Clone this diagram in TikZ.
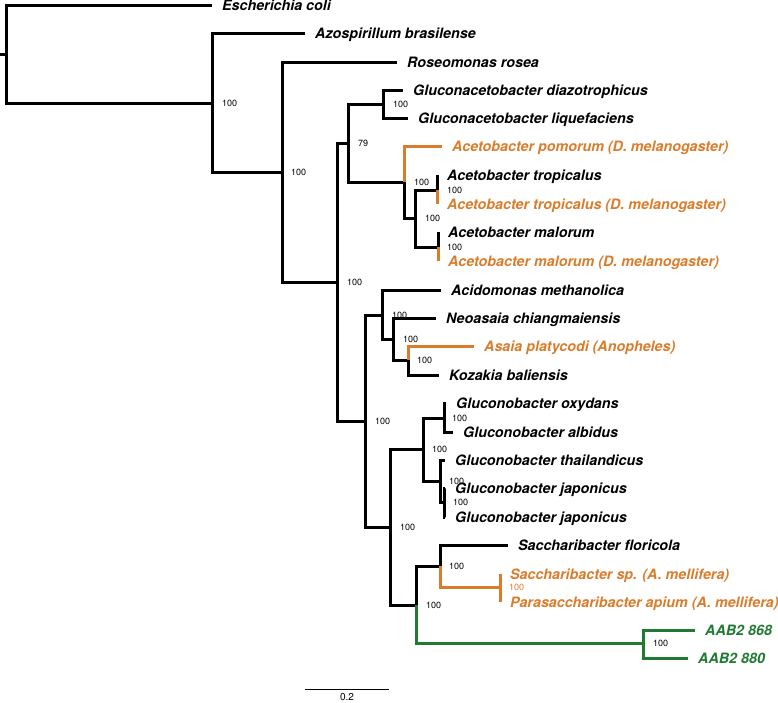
\documentclass[tikz,border=0pt]{standalone}
\usepackage{fontspec}
\setsansfont{TeX Gyre Heros}
\usetikzlibrary{positioning}

\definecolor{hostorange}{RGB}{217,125,45}
\definecolor{aabgreen}{RGB}{33,122,50}

\tikzset{
  branch/.style={line width=3pt},
  taxon/.style={anchor=west, inner xsep=10pt, inner ysep=0pt, text height=10.3pt, text depth=0pt,
    font=\sffamily\bfseries\itshape\fontsize{14.3}{16}\selectfont},
  boot/.style={inner sep=0pt, font=\sffamily\fontsize{9}{10}\selectfont},
}

\begin{document}
\begin{tikzpicture}[x=1pt,y=-1pt]
\useasboundingbox (0,0) rectangle (778,702);

% Taxa
\node[taxon] (ecoli) at (212,5) {Escherichia coli};
\node[taxon] (azo) at (305,33) {Azospirillum brasilense};
\node[taxon] (roseo) at (397,62) {Roseomonas rosea};
\node[taxon] (gdiaz) at (403,90) {Gluconacetobacter diazotrophicus};
\node[taxon] (gliq) at (408,118) {Gluconacetobacter liquefaciens};
\node[taxon, text=hostorange] (apom) at (442,146) {Acetobacter pomorum (D. melanogaster)};
\node[taxon] (atrop) at (437,175) {Acetobacter tropicalus};
\node[taxon, text=hostorange] (atropD) at (437,204) {Acetobacter tropicalus (D. melanogaster)};
\node[taxon] (amal) at (438,232) {Acetobacter malorum};
\node[taxon, text=hostorange] (amalD) at (438,261) {Acetobacter malorum (D. melanogaster)};
\node[taxon] (acido) at (441,290) {Acidomonas methanolica};
\node[taxon] (neo) at (436,318) {Neoasaia chiangmaiensis};
\node[taxon, text=hostorange] (asaia) at (474,346) {Asaia platycodi (Anopheles)};
\node[taxon] (koz) at (439,375) {Kozakia baliensis};
\node[taxon] (gox) at (446,403) {Gluconobacter oxydans};
\node[taxon] (galb) at (453,432) {Gluconobacter albidus};
\node[taxon] (gthai) at (445,460) {Gluconobacter thailandicus};
\node[taxon] (gjap1) at (445,488) {Gluconobacter japonicus};
\node[taxon] (gjap2) at (445,517) {Gluconobacter japonicus};
\node[taxon] (sflor) at (508,545) {Saccharibacter floricola};
\node[taxon, text=hostorange] (ssp) at (500,574) {Saccharibacter sp. (A. mellifera)};
\node[taxon, text=hostorange] (papi) at (500,602) {Parasaccharibacter apium (A. mellifera)};
\node[taxon, text=aabgreen] (aab868) at (695,630) {AAB2 868};
\node[taxon, text=aabgreen] (aab880) at (688,658) {AAB2 880};

% Internal nodes
\coordinate (base) at (0,54);
\coordinate (root) at (6,54);
\coordinate (nA) at (212,103);
\coordinate (nB) at (282,172);
\coordinate (nC) at (337,282);
\coordinate (nD) at (348,143);
\coordinate (nE) at (383,104);
\coordinate (nF) at (404,182);
\coordinate (nG) at (415,218);
\coordinate (nH) at (437,190);
\coordinate (nI) at (438,247);
\coordinate (nJ) at (365,421);
\coordinate (nK) at (382,315);
\coordinate (nL) at (393,339);
\coordinate (nM) at (408,360);
\coordinate (nN) at (390,527);
\coordinate (nO) at (423,449);
\coordinate (nP) at (444,418);
\coordinate (nQ) at (440,481);
\coordinate (nR) at (444,502);
\coordinate (nS) at (416,605);
\coordinate (nT) at (440,566);
\coordinate (nV) at (500,587);
\coordinate (nU) at (643,643);

% Branches
\draw[branch] (base) -- (root);
\draw[branch] (root) |- (ecoli) (root) |- (nA);
\draw[branch] (nA) |- (azo) (nA) |- (nB);
\draw[branch] (nB) |- (roseo) (nB) |- (nC);
\draw[branch] (nC) |- (nD) (nC) |- (nJ);
\draw[branch] (nD) |- (nE) (nD) |- (nF);
\draw[branch] (nE) |- (gdiaz) (nE) |- (gliq);
\draw[branch, hostorange] (nF) |- (apom);
\draw[branch] (nF) |- (nG);
\draw[branch] (nG) |- (nH) (nG) |- (nI);
\draw[branch] (nH) |- (atrop);
\draw[branch, hostorange] (nH) |- (atropD);
\draw[branch] (nI) |- (amal);
\draw[branch, hostorange] (nI) |- (amalD);
\draw[branch] (nJ) |- (nK) (nJ) |- (nN);
\draw[branch] (nK) |- (acido) (nK) |- (nL);
\draw[branch] (nL) |- (neo) (nL) |- (nM);
\draw[branch, hostorange] (nM) |- (asaia);
\draw[branch] (nM) |- (koz);
\draw[branch] (nN) |- (nO) (nN) |- (nS);
\draw[branch] (nO) |- (nP) (nO) |- (nQ);
\draw[branch] (nP) |- (gox) (nP) |- (galb);
\draw[branch] (nQ) |- (gthai) (nQ) |- (nR);
\draw[branch] (nR) |- (gjap1) (nR) |- (gjap2);
\draw[branch] (nS) |- (nT);
\draw[branch, aabgreen] (nS) |- (nU);
\draw[branch] (nT) |- (sflor);
\draw[branch, hostorange] (nT) |- (nV);
\draw[branch, hostorange] (nV) |- (ssp) (nV) |- (papi);
\draw[branch, aabgreen] (nU) |- (aab868) (nU) |- (aab880);

% Bootstrap values
\node[boot, right=10pt of nA] (bA) {100};
\node[boot, right=9pt of nB] (bB) {100};
\node[boot, right=10pt of nC] (bC) {100};
\node[boot, right=10pt of nD] (bD) {79};
\node[boot, right=10pt of nE] (bE) {100};
\node[boot, right=10pt of nF] (bF) {100};
\node[boot, right=10pt of nG] (bG) {100};
\node[boot, right=10pt of nH] (bH) {100};
\node[boot, right=9pt of nI] (bI) {100};
\node[boot, right=10pt of nJ] (bJ) {100};
\node[boot, right=10pt of nK] (bK) {100};
\node[boot, right=10pt of nL] (bL) {100};
\node[boot, right=9pt of nM] (bM) {100};
\node[boot, right=10pt of nN] (bN) {100};
\node[boot, right=9pt of nO] (bO) {100};
\node[boot, right=8pt of nP] (bP) {100};
\node[boot, right=9pt of nQ] (bQ) {100};
\node[boot, right=9pt of nR] (bR) {100};
\node[boot, right=10pt of nS] (bS) {100};
\node[boot, right=9pt of nT] (bT) {100};
\node[boot, right=9pt of nV, text=hostorange] (bV) {100};
\node[boot, right=10pt of nU] (bU) {100};

% Scale bar
\coordinate (sb1) at (305,689);
\coordinate (sb2) at (389,689);
\coordinate (sbm) at (347,689);
\draw[line width=1pt] (sb1) -- (sb2);
\node[boot, font=\sffamily\fontsize{10}{11}\selectfont, below=4pt of sbm] (sbl) {0.2};

\end{tikzpicture}
\end{document}
